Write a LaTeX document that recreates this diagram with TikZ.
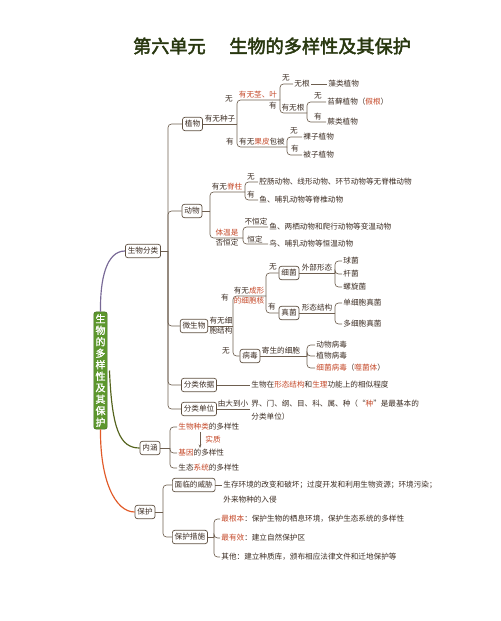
\documentclass[tikz,border=0pt]{standalone}
\usepackage{fontspec}
\setmainfont{Noto Sans CJK SC}
\newfontfamily\titlefont[FakeBold=2.5]{Noto Sans CJK SC}
\newfontfamily\rootfont[FakeBold=1.5]{Noto Sans CJK SC}
\usetikzlibrary{arrows.meta}
\definecolor{txt}{RGB}{60,45,35}
\definecolor{hred}{RGB}{196,72,40}
\definecolor{boxc}{RGB}{95,80,65}
\definecolor{linec}{RGB}{110,95,80}
\definecolor{rootg}{RGB}{92,150,45}
\definecolor{titlec}{RGB}{40,55,15}
\definecolor{purp}{RGB}{120,105,150}
\definecolor{oliv}{RGB}{85,100,30}
\definecolor{oran}{RGB}{225,90,40}
\newcommand\hl[1]{\textcolor{hred}{#1}}
\newcommand\mapfont{\fontsize{6.5}{8}\selectfont}
\tikzset{
    box/.style={draw=boxc, fill=white, rounded corners=2pt, line width=0.6pt,
        inner xsep=2pt, inner ysep=1pt, minimum height=0.4cm, text=txt, font=\mapfont},
    lbl/.style={inner sep=1pt, text=txt, font=\mapfont},
    leaf/.style={lbl, anchor=west},
    link/.style={draw=linec, line width=0.55pt, rounded corners=3pt},
    rootbox/.style={fill=rootg, draw=rootg!70!black, rounded corners=2pt, text=white,
        align=center, inner xsep=1.5pt, inner ysep=2pt, font=\rootfont\fontsize{8.5}{9.8}\selectfont}
}

\begin{document}
\begin{tikzpicture}[x=0.03cm,y=-0.03cm]
    \useasboundingbox (0,0) rectangle (500,621);
    % Title
    \node[font=\titlefont\fontsize{15.5}{18}\selectfont, text=titlec] (title) at (272,46) {第六单元\hspace{1.3em}生物的多样性及其保护};
    % Root and first level
    \node[rootbox] (root) at (100.5,370.5) {生\\物\\的\\多\\样\\性\\及\\其\\保\\护};
    \node[box] (sf) at (143,251) {生物分类};
    \node[box] (nh) at (150,448) {内涵};
    \node[box] (bh) at (145,512) {保护};
    \draw[purp, line width=1pt] (root.north) .. controls (100,280) and (106,251) .. (sf.west);
    \draw[oliv, line width=1pt] ([xshift=0.06cm]root.east) .. controls (112,430) and (120,448) .. (nh.west);
    \draw[oran, line width=1pt] (root.south) .. controls (100,480) and (115,512) .. (bh.west);

    % Classification
    \node[box] (zw) at (192.5,124) {植物};
    \node[box] (dw) at (192,211) {动物};
    \node[box] (ws) at (194,326) {微生物};
    \node[box] (yj) at (199,385) {分类依据};
    \node[box] (dwei) at (199,409) {分类单位};
    \coordinate (b0) at (168,251);
    \draw[link] (sf.east) -- (b0);
    \foreach \n in {zw,dw,ws,yj,dwei}
        \draw[link] (b0) |- (\n.west);

    % Plants
    \coordinate (b1) at (237,124);
    \node[lbl, anchor=south] at (220,124) {有无种子};
    \draw[link] (zw.east) -- (b1);
    \coordinate (b2) at (280,100);
    \node[lbl, anchor=south, text=hred] at (258,100) {有无茎、叶};
    \draw[link] (b1) |- (b2);
    \coordinate (b4) at (287,147);
    \node[lbl, anchor=south] at (262,147) {有无\hl{果皮}包被};
    \draw[link] (b1) |- (b4);
    \node[lbl] at (229,99) {无};
    \node[lbl] at (230,142) {有};
    \node[leaf] (wg) at (293,84) {无根};
    \node[leaf] (zl) at (327,84) {藻类植物};
    \draw[link] (b2) |- (wg.west);
    \draw[link] (wg.east) -- (zl.west);
    \node[lbl] at (286,78) {无};
    \node[lbl] at (273,106) {有};
    \coordinate (b3) at (307,113);
    \node[lbl, anchor=south] at (293,113) {有无根};
    \draw[link] (b2) |- (b3);
    \node[leaf] (tx) at (326,102) {苔藓植物（\hl{假根}）};
    \node[leaf] (jl) at (326,122) {蕨类植物};
    \draw[link] (b3) |- (tx.west);
    \draw[link] (b3) |- (jl.west);
    \node[lbl] at (318,96) {无};
    \node[lbl] at (318,117) {有};
    \node[leaf] (lz) at (302,137) {裸子植物};
    \node[leaf] (bz) at (302,155) {被子植物};
    \draw[link] (b4) |- (lz.west);
    \draw[link] (b4) |- (bz.west);
    \node[lbl] at (294,131) {无};
    \node[lbl] at (295,149) {有};

    % Animals
    \coordinate (b5) at (210,211);
    \draw[link] (dw.east) -- (b5);
    \coordinate (b6) at (245,192);
    \node[lbl, anchor=south] at (227,192) {有无\hl{脊柱}};
    \draw[link] (b5) |- (b6);
    \coordinate (b7) at (243,238);
    \node[lbl, anchor=south, text=hred] at (227,238) {体温是};
    \node[lbl, anchor=north] at (227,238) {否恒定};
    \draw[link] (b5) |- (b7);
    \node[leaf] (wjz) at (258,182) {腔肠动物、线形动物、环节动物等无脊椎动物};
    \node[leaf] (jz) at (258,200) {鱼、哺乳动物等脊椎动物};
    \draw[link] (b6) |- (wjz.west);
    \draw[link] (b6) |- (jz.west);
    \node[lbl] at (251,177) {无};
    \node[lbl] at (251,195) {有};
    \node[leaf] (bw) at (268,227) {鱼、两栖动物和爬行动物等变温动物};
    \node[leaf] (hw) at (268,244) {鸟、哺乳动物等恒温动物};
    \draw[link] (b7) |- (bw.west);
    \draw[link] (b7) |- (hw.west);
    \node[lbl] at (256,222) {不恒定};
    \node[lbl] at (255,239.5) {恒定};

    % Microorganisms
    \coordinate (b8) at (233,326);
    \draw[link] (ws.east) -- (b8);
    \node[lbl, anchor=south] at (221,326) {有无细};
    \node[lbl, anchor=north] at (221,326) {胞结构};
    \coordinate (b9) at (266,296);
    \draw[link] (b8) |- (b9);
    \node[lbl, anchor=south] at (249,296) {有无\hl{成形}};
    \node[lbl, anchor=north, text=hred] at (249,296) {的细胞核};
    \node[lbl] at (225,298) {有};
    \node[lbl] at (226,351) {无};
    \node[box] (bd) at (250,356) {病毒};
    \draw[link] (b8) |- (bd.west);
    \node[box] (xj) at (289,273) {细菌};
    \node[box] (zj) at (289,313) {真菌};
    \draw[link] (b9) |- (xj.west);
    \draw[link] (b9) |- (zj.west);
    \node[lbl] at (273,267) {无};
    \node[lbl] at (272,307) {有};
    \coordinate (b10) at (335,273);
    \node[lbl, anchor=south] at (317,273) {外部形态};
    \draw[link] (xj.east) -- (b10);
    \node[leaf] (qj) at (342,261) {球菌};
    \node[leaf] (gj) at (342,274) {杆菌};
    \node[leaf] (lx) at (342,287) {螺旋菌};
    \foreach \n in {qj,gj,lx}
        \draw[link] (b10) |- (\n.west);
    \coordinate (b11) at (335,313);
    \node[lbl, anchor=south] at (317,313) {形态结构};
    \draw[link] (zj.east) -- (b11);
    \node[leaf] (dxb) at (342,303) {单细胞真菌};
    \node[leaf] (dxz) at (342,324) {多细胞真菌};
    \draw[link] (b11) |- (dxb.west);
    \draw[link] (b11) |- (dxz.west);
    \coordinate (b12) at (307,356);
    \node[lbl, anchor=south] at (281,356) {寄生的细胞};
    \draw[link] (bd.east) -- (b12);
    \node[leaf] (dwbd) at (315,345) {动物病毒};
    \node[leaf] (zwbd) at (315,356) {植物病毒};
    \node[leaf] (xjbd) at (315,368) {\hl{细菌病毒}（\hl{噬菌体}）};
    \foreach \n in {dwbd,zwbd,xjbd}
        \draw[link] (b12) |- (\n.west);

    % Basis and units
    \node[leaf] (yjt) at (250,385) {生物在\hl{形态结构}和\hl{生理}功能上的相似程度};
    \draw[link] (yj.east) -- (yjt.west);
    \node[leaf, align=left, font=\fontsize{6.5}{11}\selectfont] (dwt) at (250,410.5) {界、门、纲、目、科、属、种（“\hl{种}”是最基本的\\分类单位）};
    \node[lbl, anchor=south] at (233,409) {由大到小};
    \draw[link] (dwei.east) -- (dwei.east -| dwt.west);

    % Meaning
    \coordinate (b13) at (170,448);
    \draw[link] (nh.east) -- (b13);
    \node[leaf] (zlz) at (177,427) {\hl{生物种类}的多样性};
    \node[leaf] (jyd) at (177,453) {\hl{基因}的多样性};
    \node[leaf] (stx) at (177,468) {生态\hl{系统}的多样性};
    \foreach \n in {zlz,jyd,stx}
        \draw[link] (b13) |- (\n.west);
    \coordinate (ax) at (200,440);
    \draw[-{Stealth[length=3pt]}, linec, line width=0.5pt] (zlz.south -| ax) -- (jyd.north -| ax);
    \node[lbl, anchor=west, text=hred] at (204,440) {实质};

    % Protection
    \coordinate (b14) at (163,512);
    \draw[link] (bh.east) -- (b14);
    \node[box, anchor=west] (wx) at (172,485) {面临的威胁};
    \node[box, anchor=west] (cs) at (172,537) {保护措施};
    \draw[link] (b14) |- (wx.west);
    \draw[link] (b14) |- (cs.west);
    \node[leaf] (wx1) at (222,485) {生存环境的改变和破坏；过度开发和利用生物资源；环境污染；};
    \node[leaf] (wx2) at (222,500) {外来物种的入侵};
    \draw[link] (wx.east) -- (wx1.west);
    \coordinate (b15) at (214,537);
    \draw[link] (cs.east) -- (b15);
    \node[leaf] (zgb) at (220,519) {\hl{最根本}：保护生物的栖息环境，保护生态系统的多样性};
    \node[leaf] (zyx) at (220,538) {\hl{最有效}：建立自然保护区};
    \node[leaf] (qt) at (220,557) {其他：建立种质库，颁布相应法律文件和迁地保护等};
    \foreach \n in {zgb,zyx,qt}
        \draw[link] (b15) |- (\n.west);
\end{tikzpicture}
\end{document}
